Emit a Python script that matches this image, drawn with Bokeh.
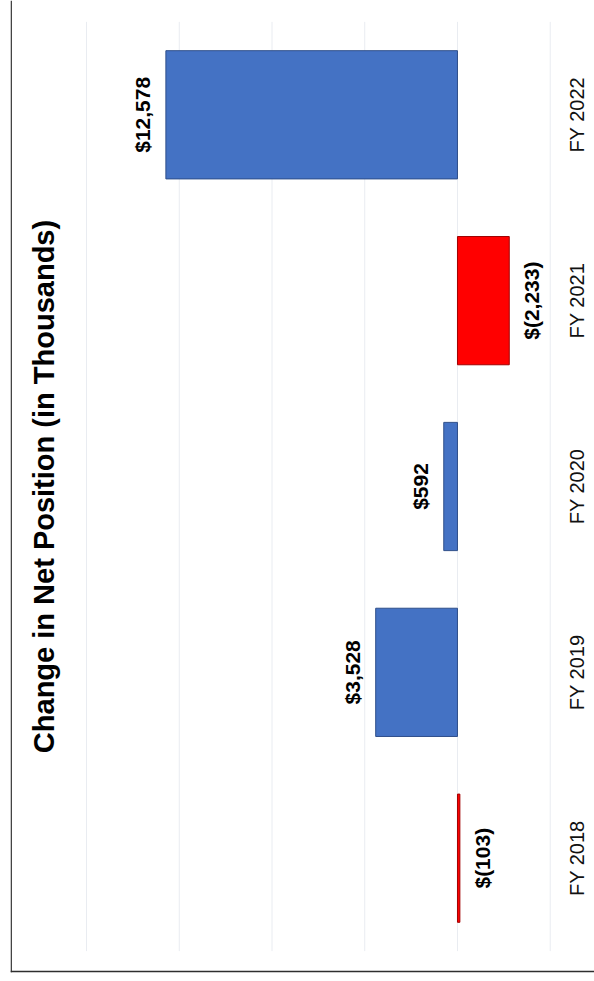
import math
from bokeh.plotting import figure
from bokeh.models import Range1d, FactorRange, Span, ColumnDataSource
from bokeh.core.properties import value
from bokeh.embed import file_html
from bokeh.resources import INLINE

# ---- data ----
categories = ["FY 2018", "FY 2019", "FY 2020", "FY 2021", "FY 2022"]
net_change = [-103, 3528, 592, -2233, 12578]
grid_ticks = [16000, 12000, 8000, 4000, 0, -4000]
title_text = "Change in Net Position (in Thousands)"


def fmt(v):
    s = "{:,}".format(abs(v))
    return "$(" + s + ")" if v < 0 else "$" + s


labels = [fmt(v) for v in net_change]
pos = [v >= 0 for v in net_change]

FONT = "Liberation Sans"
BLUE, BLUE_EDGE = "#4472C4", "#2F4F8A"
RED, RED_EDGE = "#FF0000", "#A00000"

# value axis runs right-to-left (chart is rotated)
X_LEFT, X_RIGHT = 19280, -5910
Y_PAD = 0.115

p = figure(width=594, height=981,
           x_range=Range1d(X_LEFT, X_RIGHT),
           y_range=FactorRange(*categories, range_padding=Y_PAD, range_padding_units="absolute"),
           x_axis_location=None, y_axis_location=None,
           toolbar_location=None, output_backend="svg",
           min_border_left=10, min_border_bottom=9, min_border_top=0, min_border_right=0)
p.outline_line_color = None
p.xgrid.visible = False
p.ygrid.visible = False
p.background_fill_color = "white"
p.border_fill_color = "white"

n = len(categories)

# chart-area border (left and bottom edges), nudged just inside the frame
p.add_layout(Span(location=X_LEFT - 30, dimension="height", line_color="#2e2e2e", line_width=1.4))
p.add_layout(Span(location=-Y_PAD + 0.005, dimension="width", line_color="#2e2e2e", line_width=1.8))

# gridlines across the category band
p.segment(x0=grid_ticks, y0=[0] * len(grid_ticks), x1=grid_ticks, y1=[n] * len(grid_ticks),
          line_color="#e9ecf1", line_width=1)

src = ColumnDataSource(dict(
    cat=categories, val=net_change, lab=labels,
    fill=[BLUE if q else RED for q in pos],
    edge=[BLUE_EDGE if q else RED_EDGE for q in pos],
))
p.hbar(y="cat", left=0, right="val", height=0.69, fill_color="fill",
       line_color="edge", line_width=1, source=src)

# data labels
pos_src = ColumnDataSource(dict(
    cat=[c for c, q in zip(categories, pos) if q],
    val=[v for v, q in zip(net_change, pos) if q],
    lab=[l for l, q in zip(labels, pos) if q]))
neg_src = ColumnDataSource(dict(
    cat=[c for c, q in zip(categories, pos) if not q],
    val=[v for v, q in zip(net_change, pos) if not q],
    lab=[l for l, q in zip(labels, pos) if not q]))
p.text(x="val", y="cat", text="lab", source=pos_src, angle=math.pi / 2,
       text_align="center", text_baseline="bottom", x_offset=-12,
       text_font=value(FONT), text_font_style="bold", text_font_size="21px",
       text_color="black")
p.text(x="val", y="cat", text="lab", source=neg_src, angle=math.pi / 2,
       text_align="center", text_baseline="top", x_offset=11,
       text_font=value(FONT), text_font_style="bold", text_font_size="21px",
       text_color="black")

# category labels (right side, rotated)
p.text(x=[-5160] * n, y=categories, text=categories, angle=math.pi / 2,
       text_align="center", text_baseline="middle",
       text_font=value(FONT), text_font_size="20px", text_color="#111111")

# title (left side, rotated)
p.text(x=[17830], y=[n / 2], text=[title_text], angle=math.pi / 2,
       text_align="center", text_baseline="middle",
       text_font=value(FONT), text_font_style="bold", text_font_size="29px",
       text_color="black")

open("out.html", "w").write(file_html(p, INLINE))
